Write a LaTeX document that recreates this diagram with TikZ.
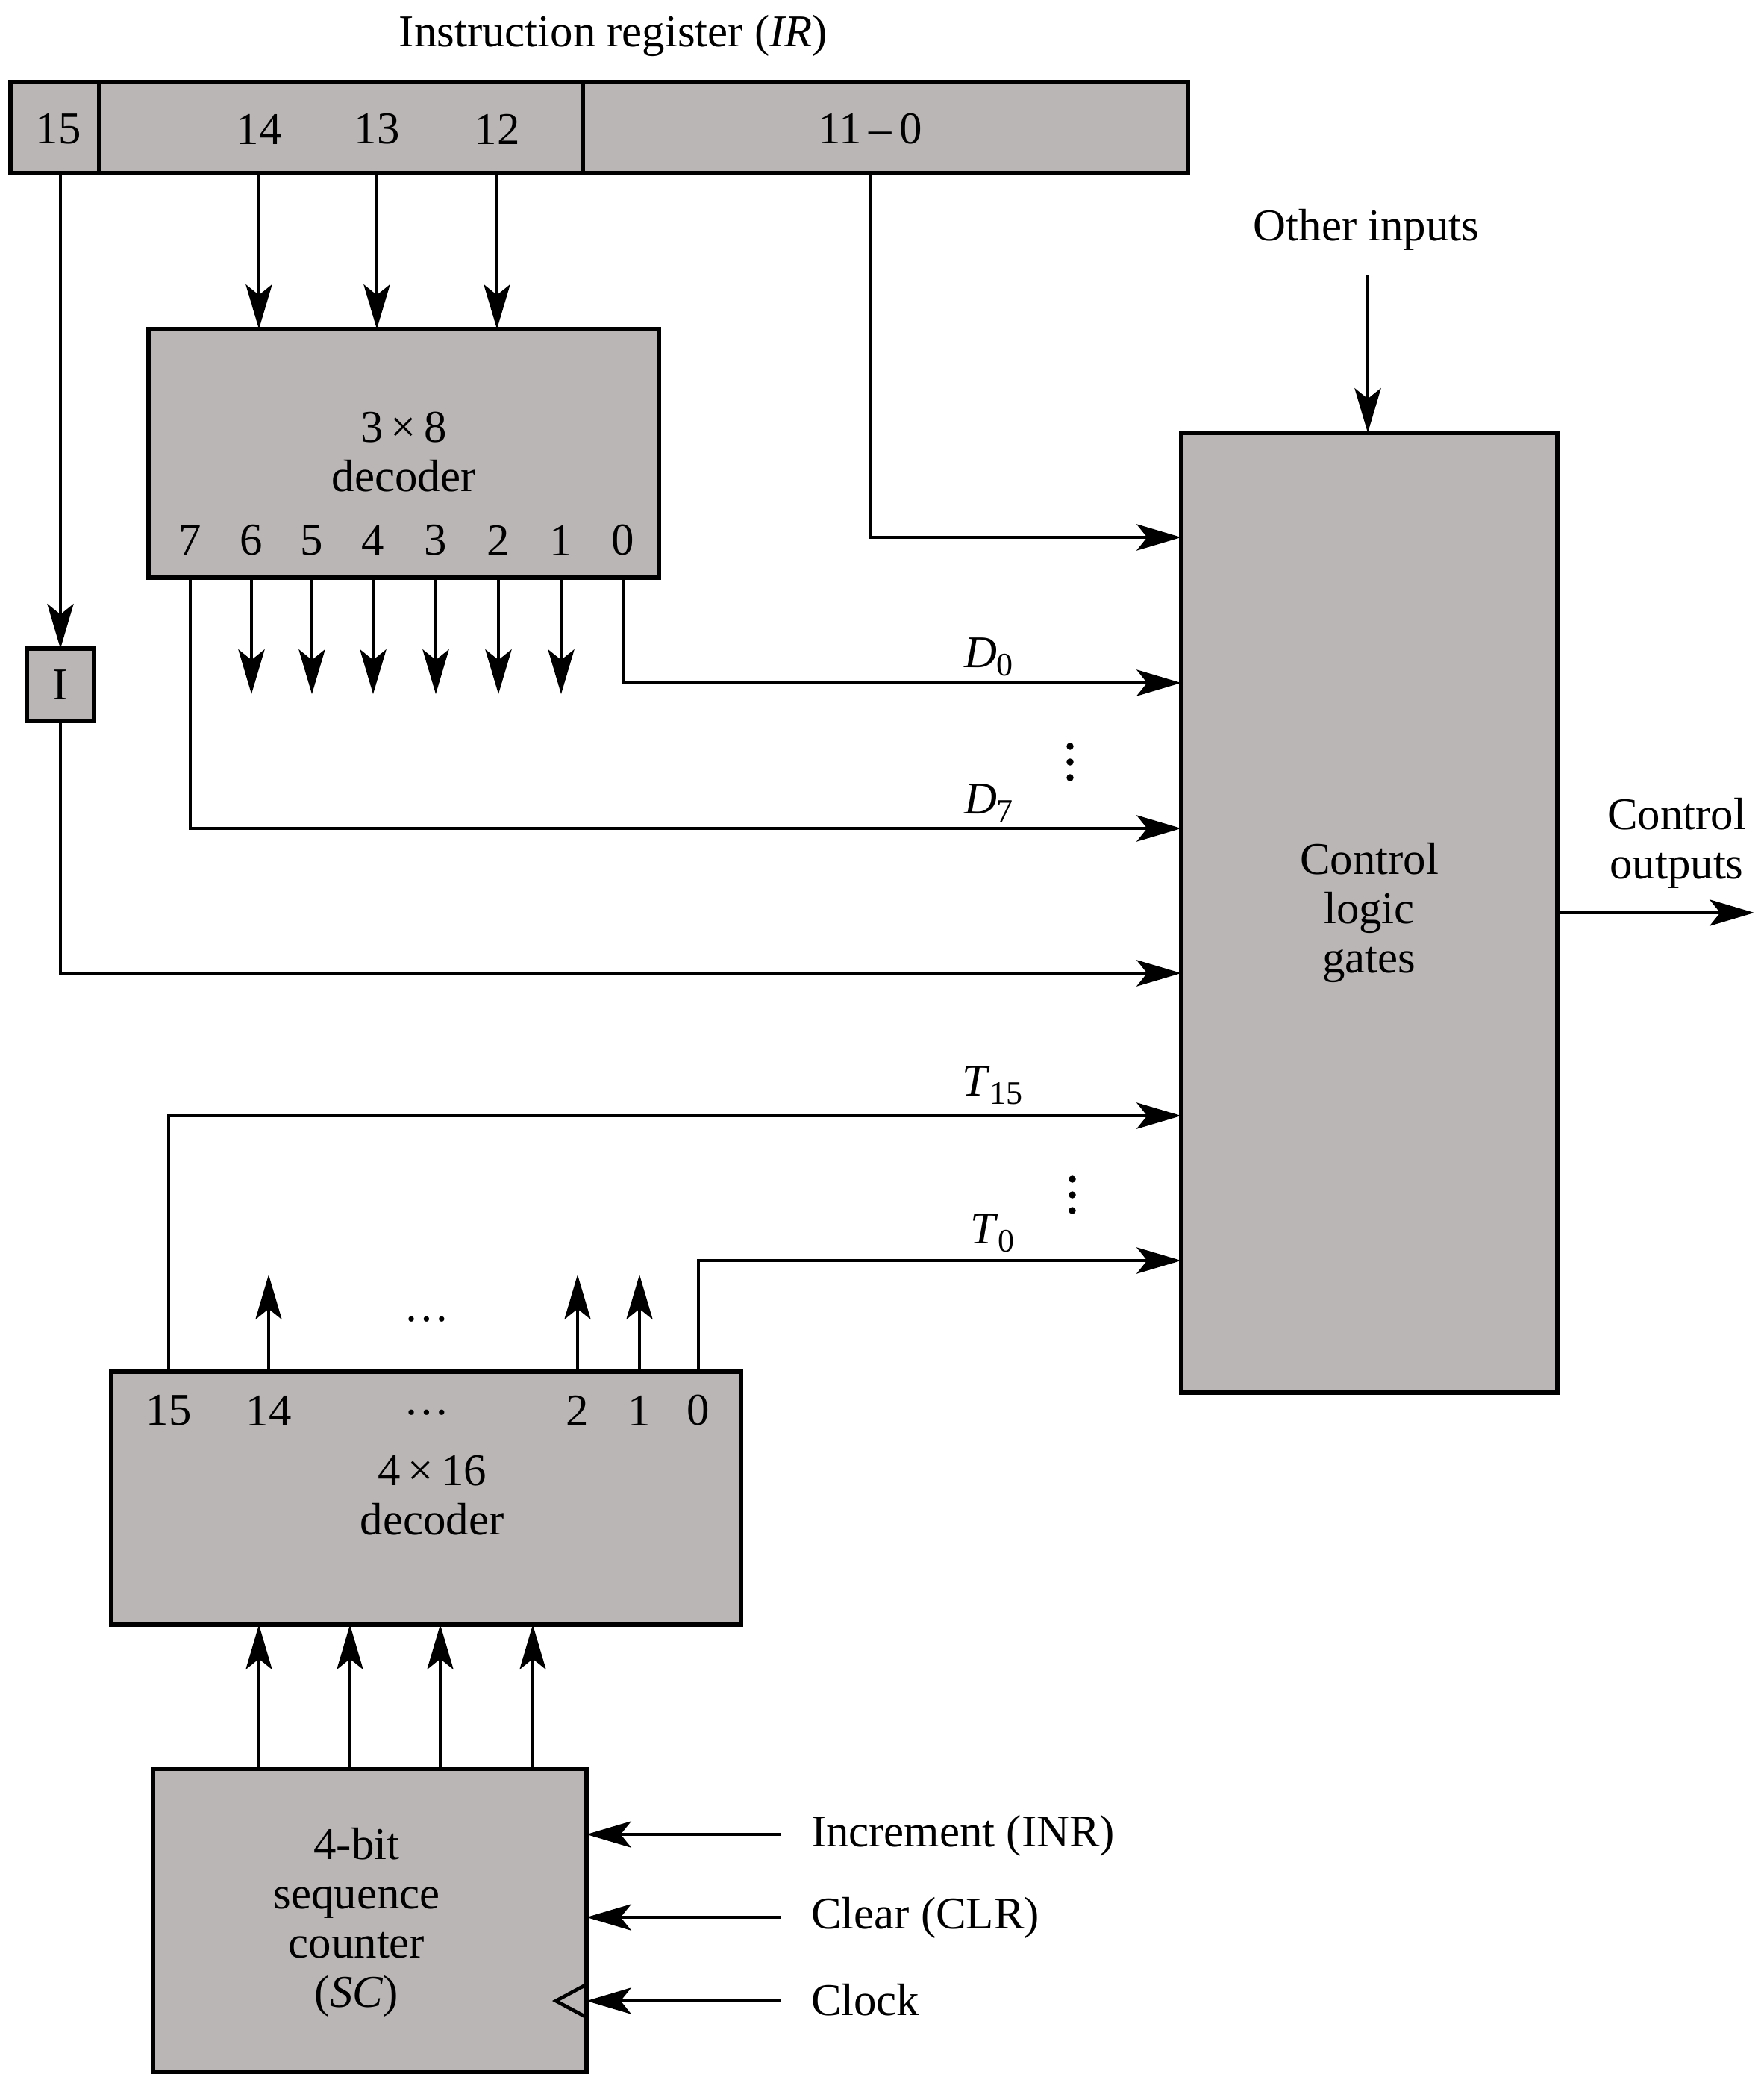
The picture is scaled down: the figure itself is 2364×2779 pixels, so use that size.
\documentclass[tikz,border=0pt]{standalone}
\usepackage{fontspec}
\setmainfont{Liberation Serif}
\usetikzlibrary{arrows.meta,fit}
\definecolor{boxgray}{RGB}{186,182,182}
\newcommand{\sig}[2]{\textit{#1}\raisebox{-0.4ex}{\fontsize{12.5}{13}\selectfont #2}}
\begin{document}
\begin{tikzpicture}[x=0.01cm,y=-0.01cm,
  every node/.style={font=\fontsize{17.3}{18.8}\selectfont, inner sep=0pt, outer sep=0pt},
  blk/.style={draw=black, line width=1.7pt, fill=boxgray},
  wire/.style={line width=1.35pt},
  arr/.style={wire, -{Stealth[length=17pt,width=10pt,inset=4pt]}},
  txt/.style={align=center}
]
\useasboundingbox (0,0) rectangle (2364,2779);

% ---------- Instruction register ----------
\node (irtitle) at (822,48) {Instruction register (\textit{IR})};
\node[blk, fit={(14,110) (133,232)}] (ir15) {};
\node[blk, fit={(133,110) (781,232)}] (irop) {};
\node[blk, fit={(781,110) (1592,232)}] (iradr) {};
\node (l15) at (78,173) {15};
\node (l14) at (347,173) {14};
\node (l13) at (505,173) {13};
\node (l12) at (666,173) {12};
\node (ladr) at (1166,173) {11\,--\,0};

% ---------- 3x8 decoder ----------
\node[blk, fit={(199,441) (883,774)}] (dec38) {};
\node[txt] (dec38t) at (541,606) {3\,×\,8\\decoder};
\node (o7) at (255,724) {7};
\node (o6) at (337,724) {6};
\node (o5) at (418,724) {5};
\node (o4) at (500,724) {4};
\node (o3) at (584,724) {3};
\node (o2) at (668,724) {2};
\node (o1) at (752,724) {1};
\node (o0) at (835,724) {0};

% ---------- I flip-flop ----------
\node[blk, fit={(36,869) (126,966)}] (ibox) {};
\node (ilbl) at (ibox.center) {I};

% ---------- Control logic ----------
\node[blk, fit={(1583,580) (2087,1866)}] (ctl) {};
\node[txt] (ctlt) at (ctl.center) {Control\\logic\\gates};
\node (oth) at (1831,308) {Other inputs};
\coordinate (othA) at (1833,368);
\node[txt] (cout) at (2247,1130) {Control\\outputs};
\coordinate (coutE) at (2351,1223);

% control input rows
\coordinate (cA) at (1583,720);
\coordinate (cD0) at (1583,915);
\coordinate (cD7) at (1583,1110);
\coordinate (cI) at (1583,1304);
\coordinate (cT15) at (1583,1495);
\coordinate (cT0) at (1583,1689);
\coordinate (yOut) at (0,930);
\coordinate (yUp) at (0,1708);

\node (d0) at (1325,880) {\sig{D}{0}};
\node (d7) at (1325,1076) {\sig{D}{7}};
\node (t15) at (1330,1454) {\sig{T}{15}};
\node (t0) at (1330,1652) {\sig{T}{0}};
\foreach \y in {1000,1021,1042} \fill (1434,\y) circle[radius=1.35pt];
\foreach \y in {1580,1601,1622} \fill (1437,\y) circle[radius=1.35pt];

% ---------- 4x16 decoder ----------
\node[blk, fit={(149,1838) (993,2177)}] (dec416) {};
\node[txt] (dec416t) at (579,2004) {4\,×\,16\\decoder};
\node (p15) at (226,1890) {15};
\node (p14) at (360,1890) {14};
\node (pdots) at (572,1893) {\ldots};
\node (p2) at (774,1890) {2};
\node (p1) at (857,1890) {1};
\node (p0) at (936,1890) {0};
\node (updots) at (572,1768) {\ldots};

% ---------- Sequence counter ----------
\node[blk, fit={(205,2370) (786,2776)}] (cnt) {};
\node[txt] (cntt) at (478,2576) {4-bit\\sequence\\counter\\(\textit{SC})};
\coordinate (qa) at (347,0);
\coordinate (qb) at (469,0);
\coordinate (qc) at (590,0);
\coordinate (qd) at (714,0);
\coordinate (inrA) at (1046,2458);
\coordinate (clrA) at (1046,2569);
\coordinate (clkA) at (1046,2681);
\node[anchor=west] (inr) at (1087,2460) {Increment (INR)};
\node[anchor=west] (clr) at (1087,2570) {Clear (CLR)};
\node[anchor=west] (clk) at (1087,2680) {Clock};

% ---------- connectors ----------
\draw[arr] (l14 |- irop.south) -- (l14 |- dec38.north);
\draw[arr] (l13 |- irop.south) -- (l13 |- dec38.north);
\draw[arr] (l12 |- irop.south) -- (l12 |- dec38.north);
\draw[arr] (ibox.north |- ir15.south) -- (ibox.north);
\draw[arr] (ibox.south) |- (cI);
\draw[arr] (ladr |- iradr.south) |- (cA);
\draw[arr] (o7 |- dec38.south) |- (cD7);
\draw[arr] (o0 |- dec38.south) |- (cD0);
\foreach \n in {o6,o5,o4,o3,o2,o1}
  \draw[arr] (\n |- dec38.south) -- (\n |- yOut);
\draw[arr] (othA) -- (othA |- ctl.north);
\draw[arr] (ctl.east) -- (coutE);

\draw[arr] (p15 |- dec416.north) |- (cT15);
\draw[arr] (p0 |- dec416.north) |- (cT0);
\foreach \n in {p14,p2,p1}
  \draw[arr] (\n |- dec416.north) -- (\n |- yUp);

\foreach \q in {qa,qb,qc,qd}
  \draw[arr] (\q |- cnt.north) -- (\q |- dec416.south);
\draw[arr] (inrA) -- (inrA -| cnt.east);
\draw[arr] (clrA) -- (clrA -| cnt.east);
\draw[arr] (clkA) -- (clkA -| cnt.east);
\draw[wire, line join=miter] (786,2659) -- (745,2681) -- (786,2703);
\end{tikzpicture}
\end{document}
